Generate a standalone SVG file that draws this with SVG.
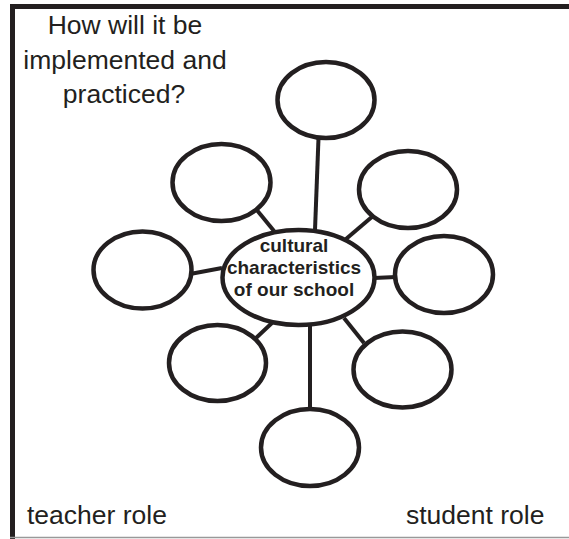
<svg xmlns="http://www.w3.org/2000/svg" width="569" height="539" viewBox="0 0 569 539">
<style>
.bub{fill:#fff;stroke:#231f20;stroke-width:4.5}
.con line{stroke:#231f20;stroke-width:4}
.t{font-family:"Liberation Sans",Arial,sans-serif;font-size:26.5px;fill:#231f20}
.c{font-family:"Liberation Sans",Arial,sans-serif;font-size:19px;font-weight:bold;fill:#231f20;text-anchor:middle}
</style>
<rect width="569" height="539" fill="#fff"/>
<g id="frame">
<rect x="10" y="4" width="5" height="535" fill="#231f20"/>
<rect x="10" y="4" width="559" height="5" fill="#231f20"/>
<line x1="10" y1="537.5" x2="569" y2="537.5" stroke="#999" stroke-width="1.5"/>
</g>
<g id="connectors" class="con">
<line x1="318.5" y1="138" x2="315" y2="230"/>
<line x1="256" y1="209" x2="274" y2="231"/>
<line x1="373" y1="216" x2="346" y2="239"/>
<line x1="190" y1="274" x2="222" y2="268"/>
<line x1="374" y1="278" x2="396" y2="277"/>
<line x1="256" y1="338" x2="273" y2="322"/>
<line x1="344" y1="318" x2="364" y2="343"/>
<line x1="310" y1="325" x2="310" y2="409"/>
</g>
<g id="n-top"><ellipse class="bub" cx="326" cy="100" rx="48.5" ry="38"/></g>
<g id="n-upper-right"><ellipse class="bub" cx="408" cy="189.5" rx="49" ry="38.5"/></g>
<g id="n-right"><ellipse class="bub" cx="444" cy="274.5" rx="49" ry="38.5"/></g>
<g id="n-upper-left"><ellipse class="bub" cx="221.5" cy="182.5" rx="49" ry="38.5"/></g>
<g id="n-left"><ellipse class="bub" cx="142.5" cy="270" rx="49" ry="38.5"/></g>
<g id="n-lower-left"><ellipse class="bub" cx="217.5" cy="363" rx="48.5" ry="38"/></g>
<g id="n-lower-right"><ellipse class="bub" cx="402.5" cy="369.5" rx="49" ry="38"/></g>
<g id="n-bottom"><ellipse class="bub" cx="310" cy="447.5" rx="49" ry="38.5"/></g>
<g id="n-center">
<ellipse class="bub" cx="298.5" cy="277.5" rx="76" ry="47.5"/>
<text class="c" x="294" y="252">cultural</text>
<text class="c" x="294" y="274">characteristics</text>
<text class="c" x="294" y="296">of our school</text>
</g>
<g id="labels">
<text class="t" x="125" y="34" text-anchor="middle">How will it be</text>
<text class="t" x="125" y="69" text-anchor="middle">implemented and</text>
<text class="t" x="124" y="103" text-anchor="middle">practiced?</text>
<text class="t" x="27" y="524">teacher role</text>
<text class="t" x="406" y="524">student role</text>
</g>
</svg>
